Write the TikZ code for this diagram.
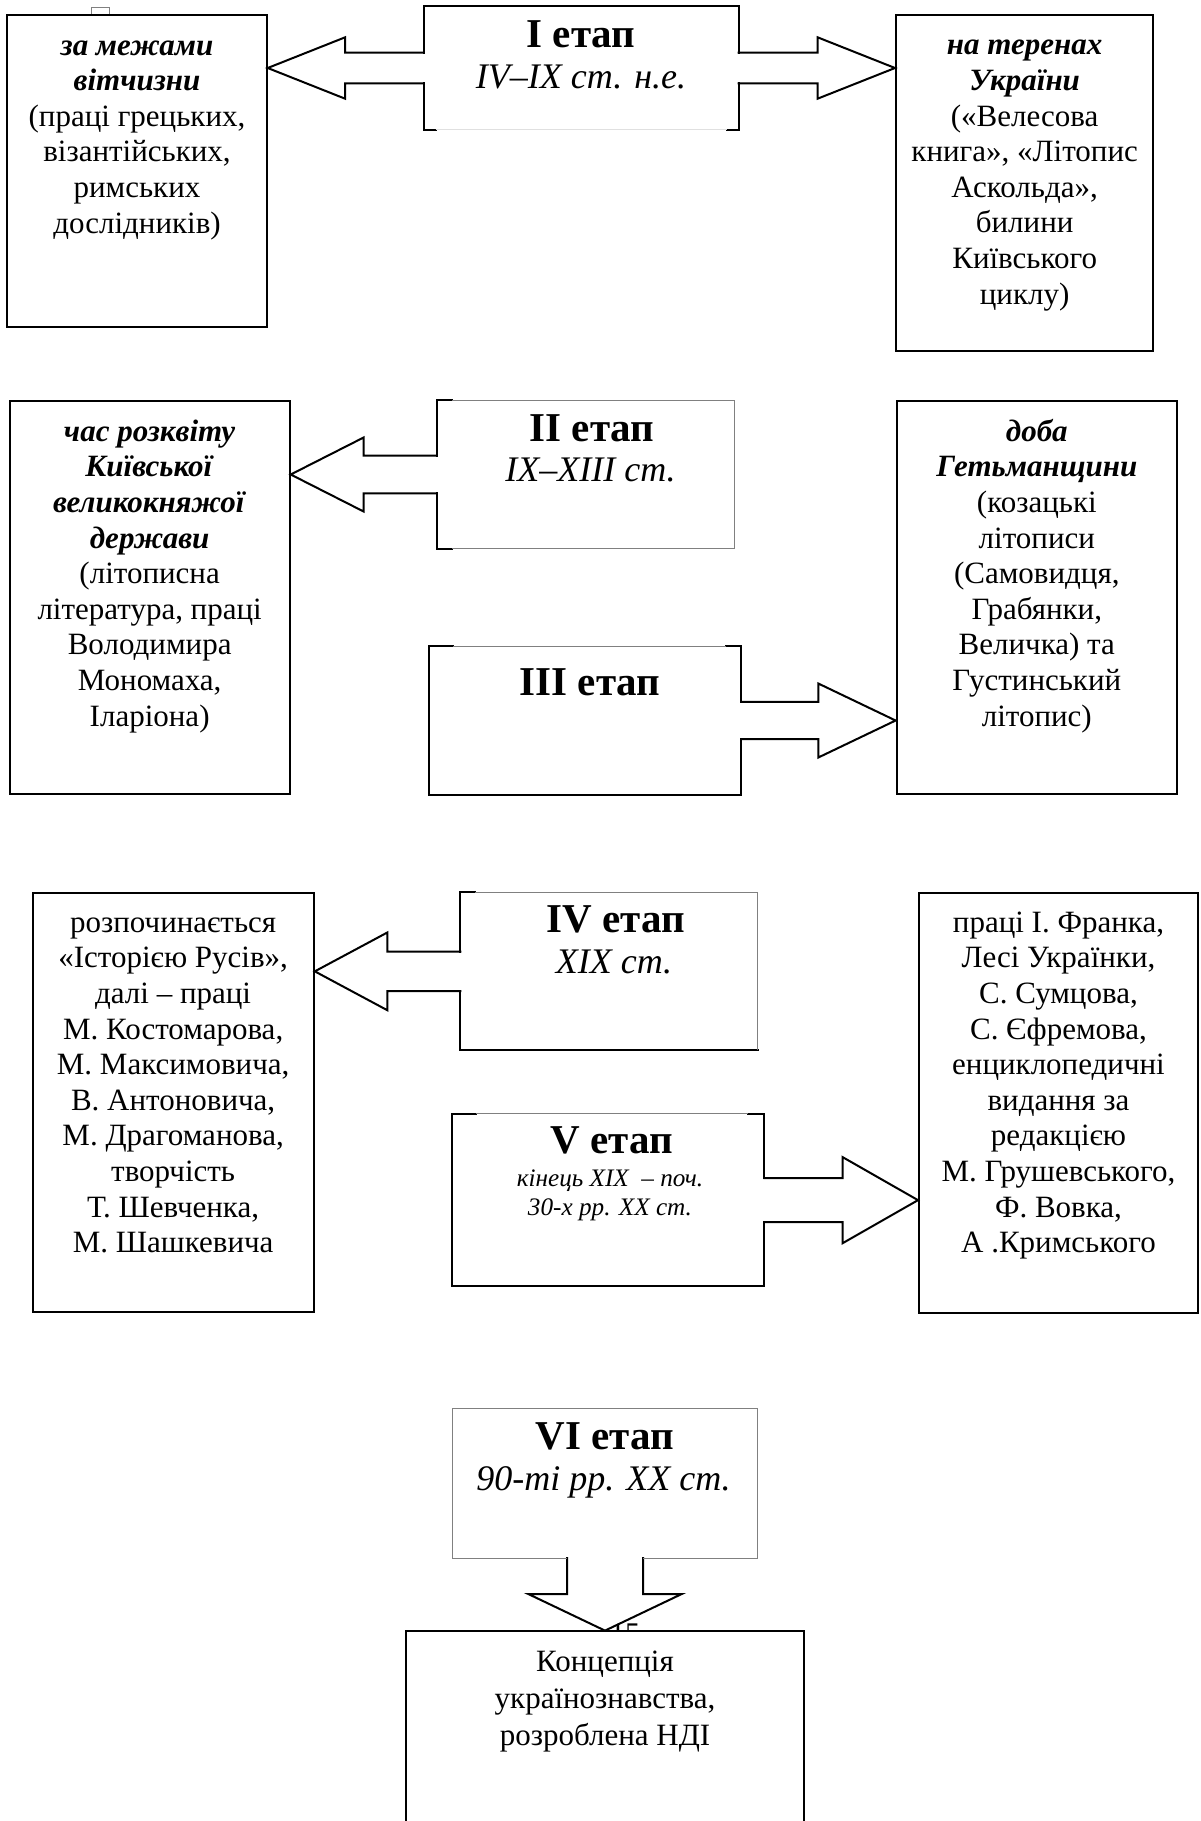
\documentclass[tikz,border=0pt]{standalone}
\usepackage{fontspec}
\setmainfont{Liberation Serif}
\usetikzlibrary{calc}
\tikzset{
  dk/.style={line width=1pt,draw=black,line join=miter,line cap=rect},
  lt/.style={line width=0.5pt,draw=black!50},
  fa/.style={line width=0.5pt,draw=black!12},
  cbox/.style={rectangle,draw=black,line width=1pt,fill=white,inner sep=0pt},
  sbox/.style={rectangle,fill=white,draw=none,inner sep=0pt},
  body/.style={align=center,inner sep=0pt,anchor=base,font=\fontsize{15.5}{17.8}\selectfont},
  ttl/.style={inner sep=0pt,anchor=base,font=\fontsize{20.5}{24}\selectfont\bfseries},
  sub/.style={inner sep=0pt,anchor=base,font=\fontsize{18}{21}\selectfont\itshape},
  subsm/.style={align=center,inner sep=0pt,anchor=base,font=\fontsize{12.6}{14.2}\selectfont\itshape},
}
\newcommand{\bi}[1]{\textbf{\textit{#1}}}
% left-pointing block arrow: #1 stage, #2 target, #3 head-back coordinate, #4 shaft half, #5 head half
\newcommand{\leftblock}[5]{%
  \draw[dk] ($(#1.west)+(0,-#4)$) -- ($(#1.west -| #3)+(0,-#4)$) -- ($(#1.west -| #3)+(0,-#5)$)
    -- (#1.west -| #2.east) -- ($(#1.west -| #3)+(0,#5)$) -- ($(#1.west -| #3)+(0,#4)$) -- ($(#1.west)+(0,#4)$);}
\newcommand{\rightblock}[5]{%
  \draw[dk] ($(#1.east)+(0,-#4)$) -- ($(#1.east -| #3)+(0,-#4)$) -- ($(#1.east -| #3)+(0,-#5)$)
    -- (#1.east -| #2.west) -- ($(#1.east -| #3)+(0,#5)$) -- ($(#1.east -| #3)+(0,#4)$) -- ($(#1.east)+(0,#4)$);}
\begin{document}
\begin{tikzpicture}[x=0.5pt,y=-0.5pt]
\useasboundingbox (0,0) rectangle (1200,1821);
\fill[white] (0,0) rectangle (1200,1821);

% small artifact square above the first box
\draw[lt] (91.7,7.3) rectangle (109.3,24);
% page number partly hidden behind the last box
\node[inner sep=0pt,anchor=base,font=\fontsize{15}{18}\selectfont] (pn) at (625,1643) {15};

% content boxes
\node[cbox,minimum width=129.7pt,minimum height=155.85pt] (A) at (137,170.85) {};
\node[cbox,minimum width=128.65pt,minimum height=167.85pt] (B) at (1024.65,182.85) {};
\node[cbox,minimum width=140.05pt,minimum height=196.8pt] (C) at (149.65,597.5) {};
\node[cbox,minimum width=140.2pt,minimum height=196.8pt] (D) at (1036.8,597.5) {};
\node[cbox,minimum width=140.65pt,minimum height=209.5pt] (E) at (173.15,1102.2) {};
\node[cbox,minimum width=139.5pt,minimum height=210pt] (F) at (1058.5,1102.7) {};
\node[sbox,minimum width=198.3pt,minimum height=95pt] (G) at (605,1726) {};
\draw[dk] (G.south west) -- (G.north west) -- (G.north east) -- (G.south east);

% stage boxes
\node[sbox,minimum width=157.15pt,minimum height=61.3pt] (S1) at (581.15,68) {};
\node[sbox,minimum width=148.35pt,minimum height=73.8pt] (S2) at (585.65,474.5) {};
\node[sbox,minimum width=155.85pt,minimum height=73.8pt] (S3) at (585.15,720.5) {};
\node[sbox,minimum width=148.3pt,minimum height=78.65pt] (S4) at (609,971.35) {};
\node[sbox,minimum width=155.65pt,minimum height=85.85pt] (S5) at (608.35,1200.15) {};
\node[sbox,minimum width=152.3pt,minimum height=74.35pt] (S6) at (605,1483.35) {};

\coordinate (hb1l) at (345,68);
\coordinate (hb1r) at (817.7,68);
\coordinate (hb2) at (363.6,474.5);
\coordinate (hb3) at (818.3,720.5);
\coordinate (hb4) at (387.3,971);
\coordinate (hb5) at (842.7,1200);
\coordinate (hb6) at (605,1594);

% block arrows
\leftblock{S1}{A}{hb1l}{15.3}{30.65}
\rightblock{S1}{B}{hb1r}{15.3}{30.65}
\leftblock{S2}{C}{hb2}{18.8}{37}
\rightblock{S3}{D}{hb3}{18.65}{37}
\leftblock{S4}{E}{hb4}{19.85}{38.85}
\rightblock{S5}{F}{hb5}{22}{43}
\draw[dk] ($(S6.south)+(-38,0)$) -- ($(S6.south |- hb6)+(-38,0)$) -- ($(S6.south |- hb6)+(-76.7,0)$)
  -- (S6.south |- G.north) -- ($(S6.south |- hb6)+(76.7,0)$) -- ($(S6.south |- hb6)+(38,0)$) -- ($(S6.south)+(38,0)$);

% stage box outlines
\draw[dk] ($(S1.west)+(0,-15.3)$) -- (S1.north west) -- (S1.north east) -- ($(S1.east)+(0,-15.3)$);
\draw[dk] ($(S1.west)+(0,15.3)$) -- (S1.south west) -- ($(S1.south west)+(12,0)$);
\draw[dk] ($(S1.east)+(0,15.3)$) -- (S1.south east) -- ($(S1.south east)+(-12,0)$);
\draw[fa] ($(S1.south west)+(12,0)$) -- ($(S1.south east)+(-12,0)$);

\draw[dk] ($(S2.south west)+(15,0)$) -- (S2.south west) -- ($(S2.west)+(0,18.8)$);
\draw[dk] ($(S2.west)+(0,-18.8)$) -- (S2.north west) -- ($(S2.north west)+(15,0)$);
\draw[lt] ($(S2.north west)+(15,0)$) -- (S2.north east) -- (S2.south east) -- ($(S2.south west)+(15,0)$);

\draw[dk] ($(S3.north west)+(24,0)$) -- (S3.north west) -- (S3.south west) -- (S3.south east) -- ($(S3.east)+(0,18.65)$);
\draw[dk] ($(S3.east)+(0,-18.65)$) -- (S3.north east) -- ($(S3.north east)+(-15,0)$);
\draw[lt] ($(S3.north west)+(24,0)$) -- ($(S3.north east)+(-15,0)$);

\draw[dk] ($(S4.north west)+(15,0)$) -- (S4.north west) -- ($(S4.west)+(0,-19.85)$);
\draw[dk] ($(S4.west)+(0,19.85)$) -- (S4.south west) -- (S4.south east);
\draw[lt] ($(S4.north west)+(15,0)$) -- (S4.north east) -- (S4.south east);

\draw[dk] ($(S5.north west)+(24,0)$) -- (S5.north west) -- (S5.south west) -- (S5.south east) -- ($(S5.east)+(0,22)$);
\draw[dk] ($(S5.east)+(0,-22)$) -- (S5.north east) -- ($(S5.north east)+(-16,0)$);
\draw[lt] ($(S5.north west)+(24,0)$) -- ($(S5.north east)+(-16,0)$);

\draw[lt] ($(S6.south)+(-38,0)$) -- (S6.south west) -- (S6.north west) -- (S6.north east) -- (S6.south east) -- ($(S6.south)+(38,0)$);

% stage texts (anchor=base of a multi-line node is its last line)
\node[ttl] (t1) at (581,47) {I етап};
\node[sub] (d1) at (581,88) {IV–IX ст. н.е.};
\node[ttl] (t2) at (592,441.7) {II етап};
\node[sub] (d2) at (590.5,481.7) {IX–XIII ст.};
\node[ttl] (t3) at (590,695) {III етап};
\node[ttl] (t4) at (615.5,932.3) {IV етап};
\node[sub] (d4) at (614,973.3) {XIX ст.};
\node[ttl] (t5) at (611.5,1153.3) {V етап};
\node[subsm] (d5) at (610,1215) {кінець XIX\ \ – поч.\\30-х рр. XX ст.};
\node[ttl] (t6) at (605,1449) {VI етап};
\node[sub] (d6) at (603.5,1490) {90-ті рр. XX ст.};

% content texts (placed by the baseline of their last line)
\node[body] (At) at (137,233) {\bi{за межами}\\\bi{вітчизни}\\(праці грецьких,\\візантійських,\\римських\\дослідників)};
\node[body] (Bt) at (1024.65,304) {\bi{на теренах}\\\bi{України}\\(«Велесова\\книга», «Літопис\\Аскольда»,\\билини\\Київського\\циклу)};
\node[body] (Ct) at (149.65,726) {\bi{час розквіту}\\\bi{Київської}\\\bi{великокняжої}\\\bi{держави}\\(літописна\\література, праці\\Володимира\\Мономаха,\\Іларіона)};
\node[body] (Dt) at (1036.8,726) {\bi{доба}\\\bi{Гетьманщини}\\(козацькі\\літописи\\(Самовидця,\\Грабянки,\\Величка) та\\Густинський\\літопис)};
\node[body] (Et) at (173.15,1252.6) {розпочинається\\«Історією Русів»,\\далі – праці\\М. Костомарова,\\М. Максимовича,\\В. Антоновича,\\М. Драгоманова,\\творчість\\Т. Шевченка,\\М. Шашкевича};
\node[body] (Ft) at (1058.5,1252.6) {праці І. Франка,\\Лесі Українки,\\С. Сумцова,\\С. Єфремова,\\енциклопедичні\\видання за\\редакцією\\М. Грушевського,\\Ф. Вовка,\\А .Кримського};
\node[body,font=\fontsize{15.5}{18.5}\selectfont] (Gt) at (605,1745) {Концепція\\українознавства,\\розроблена НДІ};
\end{tikzpicture}
\end{document}
